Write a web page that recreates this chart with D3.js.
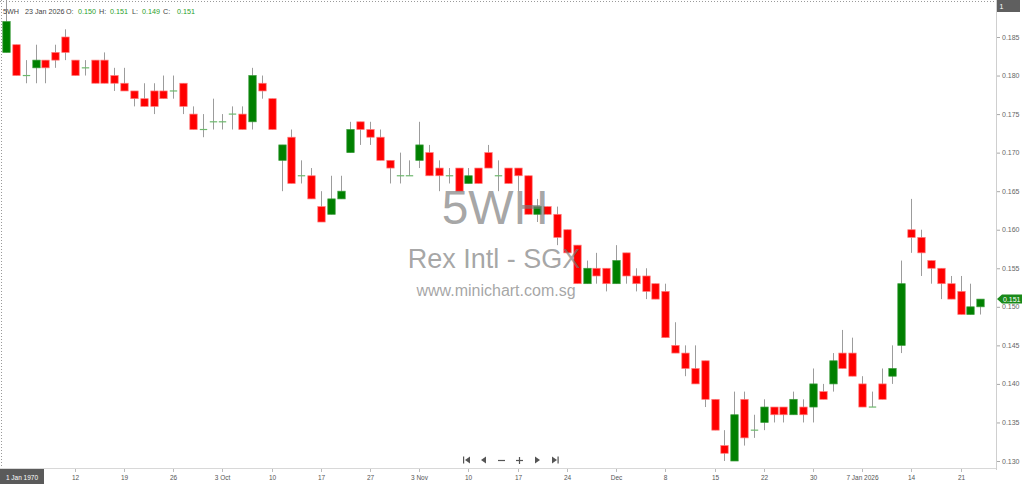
<!DOCTYPE html>
<html>
<head>
<meta charset="utf-8">
<script src="https://cdn.jsdelivr.net/npm/d3@7"></script>
<style>
  html, body { margin: 0; padding: 0; background: #fff; }
  svg { display: block; font-family: "Liberation Sans", Arial, sans-serif; }
</style>
</head>
<body>
<svg id="chart" width="1024" height="484"></svg>
<script>
// ---------- DATA ----------
const dates = [
  "2025-09-03","2025-09-04","2025-09-05","2025-09-08","2025-09-09","2025-09-10","2025-09-11","2025-09-12","2025-09-15","2025-09-16",
  "2025-09-17","2025-09-18","2025-09-19","2025-09-22","2025-09-23","2025-09-24","2025-09-25","2025-09-26","2025-09-29","2025-09-30",
  "2025-10-01","2025-10-02","2025-10-03","2025-10-06","2025-10-07","2025-10-08","2025-10-09","2025-10-10","2025-10-13","2025-10-14",
  "2025-10-15","2025-10-16","2025-10-17","2025-10-21","2025-10-22","2025-10-23","2025-10-24","2025-10-27","2025-10-28","2025-10-29",
  "2025-10-30","2025-10-31","2025-11-03","2025-11-04","2025-11-05","2025-11-06","2025-11-07","2025-11-10","2025-11-11","2025-11-12",
  "2025-11-13","2025-11-14","2025-11-17","2025-11-18","2025-11-19","2025-11-20","2025-11-21","2025-11-24","2025-11-25","2025-11-26",
  "2025-11-27","2025-11-28","2025-12-01","2025-12-02","2025-12-03","2025-12-04","2025-12-05","2025-12-08","2025-12-09","2025-12-10",
  "2025-12-11","2025-12-12","2025-12-15","2025-12-16","2025-12-17","2025-12-18","2025-12-19","2025-12-22","2025-12-23","2025-12-24",
  "2025-12-26","2025-12-29","2025-12-30","2025-12-31","2026-01-02","2026-01-05","2026-01-06","2026-01-07","2026-01-08","2026-01-09",
  "2026-01-12","2026-01-13","2026-01-14","2026-01-15","2026-01-16","2026-01-19","2026-01-20","2026-01-21","2026-01-22","2026-01-23"
];
const openVals = [
  0.183,0.184,0.180,0.181,0.182,0.183,0.185,0.182,0.181,0.182,
  0.182,0.180,0.179,0.178,0.177,0.178,0.178,0.178,0.179,0.175,
  0.173,0.174,0.174,0.175,0.175,0.174,0.179,0.177,0.169,0.172,
  0.167,0.167,0.163,0.162,0.164,0.170,0.174,0.173,0.172,0.169,
  0.167,0.167,0.169,0.170,0.168,0.167,0.168,0.166,0.168,0.170,
  0.167,0.168,0.168,0.167,0.162,0.163,0.162,0.160,0.158,0.153,
  0.155,0.155,0.153,0.157,0.154,0.154,0.153,0.152,0.145,0.144,
  0.142,0.143,0.138,0.132,0.130,0.138,0.134,0.135,0.137,0.137,
  0.136,0.137,0.137,0.139,0.140,0.144,0.144,0.140,0.137,0.140,
  0.141,0.145,0.160,0.159,0.156,0.155,0.153,0.152,0.149,0.150
];
const highVals = [
  0.190,0.184,0.182,0.184,0.182,0.184,0.186,0.182,0.182,0.182,
  0.183,0.181,0.181,0.178,0.179,0.179,0.180,0.180,0.179,0.176,
  0.175,0.177,0.175,0.176,0.176,0.181,0.180,0.177,0.171,0.173,
  0.169,0.168,0.165,0.167,0.167,0.174,0.174,0.174,0.173,0.169,
  0.170,0.169,0.174,0.171,0.169,0.168,0.168,0.168,0.168,0.171,
  0.169,0.168,0.168,0.167,0.164,0.163,0.163,0.160,0.158,0.156,
  0.157,0.155,0.158,0.157,0.155,0.155,0.153,0.153,0.148,0.145,
  0.145,0.143,0.138,0.134,0.139,0.139,0.136,0.138,0.137,0.137,
  0.139,0.138,0.142,0.140,0.144,0.147,0.146,0.141,0.139,0.142,
  0.145,0.156,0.164,0.160,0.156,0.155,0.154,0.154,0.153,0.151
];
const lowVals = [
  0.183,0.180,0.179,0.179,0.179,0.181,0.182,0.180,0.180,0.179,
  0.179,0.178,0.178,0.176,0.176,0.175,0.177,0.177,0.175,0.173,
  0.172,0.173,0.173,0.173,0.173,0.173,0.177,0.173,0.165,0.166,
  0.166,0.164,0.161,0.162,0.164,0.170,0.171,0.171,0.169,0.166,
  0.166,0.167,0.168,0.167,0.165,0.166,0.165,0.166,0.166,0.168,
  0.165,0.166,0.165,0.162,0.161,0.162,0.158,0.157,0.153,0.153,
  0.153,0.152,0.153,0.153,0.152,0.151,0.151,0.146,0.144,0.141,
  0.140,0.137,0.134,0.130,0.130,0.132,0.133,0.134,0.135,0.135,
  0.136,0.135,0.135,0.138,0.139,0.142,0.141,0.137,0.137,0.138,
  0.140,0.144,0.157,0.154,0.153,0.151,0.151,0.149,0.149,0.149
];
const closeVals = [
  0.187,0.180,0.180,0.182,0.181,0.182,0.183,0.180,0.181,0.179,
  0.179,0.179,0.178,0.177,0.176,0.176,0.177,0.178,0.176,0.173,
  0.173,0.174,0.174,0.175,0.173,0.180,0.178,0.173,0.171,0.166,
  0.167,0.164,0.161,0.164,0.165,0.173,0.173,0.172,0.169,0.168,
  0.167,0.167,0.171,0.167,0.167,0.167,0.165,0.167,0.166,0.168,
  0.167,0.166,0.167,0.162,0.163,0.162,0.159,0.157,0.153,0.155,
  0.154,0.153,0.156,0.154,0.153,0.152,0.151,0.146,0.144,0.142,
  0.140,0.138,0.134,0.131,0.136,0.133,0.134,0.137,0.136,0.136,
  0.138,0.136,0.140,0.138,0.143,0.142,0.141,0.137,0.137,0.138,
  0.142,0.153,0.159,0.157,0.155,0.153,0.151,0.149,0.150,0.151
];
const xTickDates = ["2025-09-12","2025-09-19","2025-09-26","2025-10-03","2025-10-10","2025-10-17","2025-10-27","2025-11-03","2025-11-10","2025-11-17",
  "2025-11-24","2025-12-01","2025-12-08","2025-12-15","2025-12-22","2025-12-30","2026-01-07","2026-01-14","2026-01-21"];
const xTickLabels = ["12","19","26","3 Oct","10","17","27","3 Nov","10","17","24","Dec","8","15","22","30","7 Jan 2026","14","21"];
const yTicks = [0.130,0.135,0.140,0.145,0.150,0.155,0.160,0.165,0.170,0.175,0.180,0.185];
const symbol = "5WH";
const companyName = "Rex Intl - SGX";
const siteName = "www.minichart.com.sg";
const lastDateLabel = "23 Jan 2026";
const cursorLabel = "1 Jan 1970";

// ---------- LAYOUT ----------
const W = 1024, H = 484;
const plotRight = 996, plotBottom = 468;
const svg = d3.select("#chart");
svg.append("rect").attr("width", W).attr("height", H).attr("fill", "#fff");

const x = d3.scaleLinear().domain([0, dates.length - 1]).range([6, 980.2]);
const y = d3.scaleLinear().domain([0.130, 0.185]).range([461, 37]);
const idx = d => dates.indexOf(d);

svg.append("defs").append("clipPath").attr("id", "plotclip")
  .append("rect").attr("x", 0).attr("y", 0).attr("width", plotRight).attr("height", plotBottom);

// dotted frame top & left
svg.append("line").attr("x1", 0).attr("x2", plotRight).attr("y1", 1.5).attr("y2", 1.5)
  .attr("stroke", "#9a9a9a").attr("stroke-dasharray", "1,2");
svg.append("line").attr("x1", 1.5).attr("x2", 1.5).attr("y1", 0).attr("y2", plotBottom)
  .attr("stroke", "#9a9a9a").attr("stroke-dasharray", "1,2");

// axes lines
svg.append("line").attr("x1", plotRight + 0.5).attr("x2", plotRight + 0.5).attr("y1", 0).attr("y2", plotBottom + 2)
  .attr("stroke", "#cfcfcf");
svg.append("line").attr("x1", 0).attr("x2", plotRight).attr("y1", plotBottom + 0.5).attr("y2", plotBottom + 0.5)
  .attr("stroke", "#d8d8d8");

// ---------- CANDLES ----------
const data = dates.map((d, i) => ({ i, d, o: openVals[i], h: highVals[i], l: lowVals[i], c: closeVals[i] }));
const g = svg.append("g").attr("clip-path", "url(#plotclip)");
const bw = 7.4;

g.selectAll("line.wick").data(data).join("line")
  .attr("class", "wick")
  .attr("x1", d => Math.round(x(d.i)) + 0.5).attr("x2", d => Math.round(x(d.i)) + 0.5)
  .attr("y1", d => y(d.h)).attr("y2", d => y(d.l))
  .attr("stroke", "#9c9c9c").attr("stroke-width", 1);

const bodies = data.filter(d => d.o !== d.c);
g.selectAll("rect.body").data(bodies).join("rect")
  .attr("class", "body")
  .attr("x", d => Math.round(x(d.i)) + 0.5 - bw / 2)
  .attr("y", d => y(Math.max(d.o, d.c)))
  .attr("width", bw)
  .attr("height", d => Math.abs(y(d.o) - y(d.c)))
  .attr("fill", d => d.c > d.o ? "#008000" : "#ff0000")
  .attr("stroke", d => d.c > d.o ? "#3a9a3a" : "#ff7a7a")
  .attr("stroke-width", 0.7);

const dojis = data.filter(d => d.o === d.c);
g.selectAll("line.doji").data(dojis).join("line")
  .attr("class", "doji")
  .attr("x1", d => Math.round(x(d.i)) + 0.5 - bw / 2).attr("x2", d => Math.round(x(d.i)) + 0.5 + bw / 2)
  .attr("y1", d => y(d.c)).attr("y2", d => y(d.c))
  .attr("stroke", "#6cb86c").attr("stroke-width", 1.2);

// ---------- WATERMARK ----------
const wm = svg.append("g").attr("fill", "#7a7a7a").attr("fill-opacity", 0.68).attr("text-anchor", "middle");
wm.append("text").attr("x", 495).attr("y", 224).attr("font-size", 48).text(symbol);
wm.append("text").attr("x", 494).attr("y", 268).attr("font-size", 27).text(companyName);
wm.append("text").attr("x", 496).attr("y", 296).attr("font-size", 16).text(siteName);

// ---------- Y AXIS ----------
const yAxisG = svg.append("g");
yTicks.forEach(t => {
  yAxisG.append("line").attr("x1", plotRight + 1).attr("x2", plotRight + 4)
    .attr("y1", y(t) + 0.5).attr("y2", y(t) + 0.5).attr("stroke", "#aaa");
  yAxisG.append("text").attr("x", 1002).attr("y", y(t) + 2.5)
    .attr("font-size", 7).attr("fill", "#666").text(d3.format(".3f")(t));
});

// last price tag
const lastC = closeVals[closeVals.length - 1];
const ly = y(lastC);
svg.append("path")
  .attr("d", `M${plotRight + 1},${ly} L${plotRight + 6},${ly - 4.5} L1022,${ly - 4.5} L1022,${ly + 4.5} L${plotRight + 6},${ly + 4.5} Z`)
  .attr("fill", "#1a8a1a");
svg.append("text").attr("x", 1003).attr("y", ly + 2.5).attr("font-size", 7).attr("fill", "#fff")
  .text(d3.format(".3f")(lastC));

// "1" box
svg.append("rect").attr("x", 997).attr("y", 0).attr("width", 23).attr("height", 12).attr("fill", "#5f5f5f");
svg.append("text").attr("x", 999.5).attr("y", 9).attr("font-size", 7).attr("fill", "#fff").text("1");

// ---------- X AXIS ----------
const xAxisG = svg.append("g");
xTickDates.forEach((d, k) => {
  const px = Math.round(x(idx(d))) + 0.5;
  xAxisG.append("line").attr("x1", px).attr("x2", px).attr("y1", plotBottom + 1).attr("y2", plotBottom + 4).attr("stroke", "#bbb");
  xAxisG.append("text").attr("x", px).attr("y", 480).attr("text-anchor", "middle")
    .attr("font-size", 6.5).attr("fill", "#555").text(xTickLabels[k]);
});
svg.append("rect").attr("x", 0).attr("y", 469).attr("width", 44).attr("height", 15).attr("fill", "#5a5a5a");
svg.append("text").attr("x", 22).attr("y", 479.5).attr("text-anchor", "middle").attr("font-size", 6.5)
  .attr("fill", "#fff").text(cursorLabel);

// ---------- NAV ICONS ----------
const nav = svg.append("g").attr("fill", "#555").attr("stroke", "#555");
const ny = 460;
nav.append("rect").attr("x", 463).attr("y", ny - 3.5).attr("width", 1.2).attr("height", 7).attr("stroke", "none");
nav.append("path").attr("d", `M465,${ny} L470,${ny - 3.5} L470,${ny + 3.5} Z`).attr("stroke", "none");
nav.append("path").attr("d", `M481,${ny} L486,${ny - 3.5} L486,${ny + 3.5} Z`).attr("stroke", "none");
nav.append("line").attr("x1", 498).attr("x2", 505).attr("y1", ny + 0.5).attr("y2", ny + 0.5).attr("stroke-width", 1.2);
nav.append("line").attr("x1", 516).attr("x2", 523).attr("y1", ny + 0.5).attr("y2", ny + 0.5).attr("stroke-width", 1.2);
nav.append("line").attr("x1", 519.5).attr("x2", 519.5).attr("y1", ny - 3).attr("y2", ny + 4).attr("stroke-width", 1.2);
nav.append("path").attr("d", `M540,${ny} L535,${ny - 3.5} L535,${ny + 3.5} Z`).attr("stroke", "none");
nav.append("path").attr("d", `M557,${ny} L552,${ny - 3.5} L552,${ny + 3.5} Z`).attr("stroke", "none");
nav.append("rect").attr("x", 557.5).attr("y", ny - 3.5).attr("width", 1.2).attr("height", 7).attr("stroke", "none");

// ---------- HEADER ----------
const last = data[data.length - 1];
const hdr = svg.append("g").attr("font-size", 7.2);
const fmt = d3.format(".3f");
const parts = [
  { x: 3, t: symbol, c: "#444" },
  { x: 25, t: lastDateLabel, c: "#444" },
  { x: 66, t: "O:", c: "#444" },
  { x: 78, t: fmt(last.o), c: "#2aa02a" },
  { x: 99, t: "H:", c: "#444" },
  { x: 110, t: fmt(last.h), c: "#2aa02a" },
  { x: 132, t: "L:", c: "#444" },
  { x: 142, t: fmt(last.l), c: "#2aa02a" },
  { x: 163, t: "C:", c: "#444" },
  { x: 177, t: fmt(last.c), c: "#2aa02a" }
];
parts.forEach(p => hdr.append("text").attr("x", p.x).attr("y", 13.5).attr("fill", p.c).text(p.t));
</script>
</body>
</html>
